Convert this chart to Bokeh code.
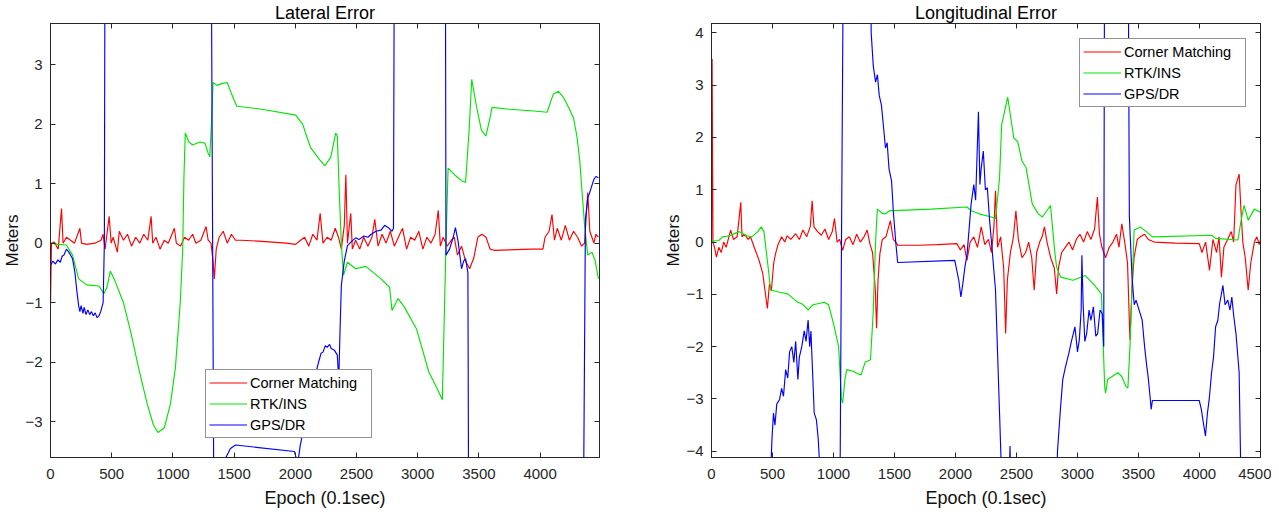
from bokeh.plotting import figure
from bokeh.models import LinearAxis
from bokeh.layouts import row
from bokeh.embed import file_html
from bokeh.resources import INLINE

# ---------------- data ----------------
series_names = ["Corner Matching", "RTK/INS", "GPS/DR"]
series_colors = ["#ff0000", "#00e600", "#0000ff"]

x_ticks_lat = [0, 500, 1000, 1500, 2000, 2500, 3000, 3500, 4000]
y_ticks_lat = [-3, -2, -1, 0, 1, 2, 3]
x_ticks_lon = [0, 500, 1000, 1500, 2000, 2500, 3000, 3500, 4000, 4500]
y_ticks_lon = [-4, -3, -2, -1, 0, 1, 2, 3, 4]

# Lateral error: Corner Matching
lat_cm_x = [0, 8, 30, 63, 90, 103, 130, 163, 196, 240, 253, 296, 363, 413, 429, 446, 479, 496, 512, 546, 562, 596, 629, 662, 696, 729, 762, 795, 822, 835, 862, 895, 929, 962, 1012, 1028, 1062, 1095, 1128, 1161, 1188, 1228, 1271, 1288, 1311, 1328, 1338, 1354, 1378, 1411, 1444, 1478, 1511, 1561, 1727, 1927, 2003, 2043, 2076, 2110, 2143, 2177, 2203, 2226, 2260, 2293, 2326, 2353, 2376, 2400, 2413, 2426, 2453, 2466, 2493, 2526, 2559, 2593, 2626, 2649, 2676, 2709, 2742, 2776, 2809, 2842, 2876, 2909, 2942, 2975, 3009, 3042, 3075, 3108, 3142, 3168, 3185, 3208, 3241, 3275, 3298, 3325, 3358, 3391, 3424, 3458, 3491, 3524, 3558, 3591, 3624, 3924, 4023, 4040, 4073, 4097, 4117, 4140, 4173, 4206, 4239, 4273, 4306, 4339, 4363, 4389, 4406, 4423, 4439, 4456, 4476]
lat_cm_y = [-1.05, 0.0, 0.02, -0.1, 0.58, 0.0, 0.1, 0.05, 0.0, 0.25, 0.0, -0.02, 0.0, 0.05, 0.15, -0.1, 0.45, 0.0, 0.1, -0.15, 0.2, 0.05, 0.15, -0.05, 0.1, 0.0, 0.15, 0.05, 0.45, 0.0, 0.1, -0.1, 0.05, 0.0, 0.25, 0.0, -0.05, 0.1, 0.05, 0.15, 0.0, 0.05, 0.28, 0.05, 0.0, -0.3, -0.6, -0.1, 0.1, 0.2, 0.0, 0.15, 0.05, 0.05, 0.03, 0.0, -0.02, 0.05, 0.1, -0.05, 0.15, 0.05, 0.5, 0.0, 0.1, 0.05, 0.25, 0.1, -0.1, 0.3, 1.15, 0.0, 0.5, -0.1, 0.05, -0.1, 0.1, -0.05, 0.1, 0.4, -0.05, 0.15, 0.0, 0.2, -0.05, 0.1, 0.25, -0.1, 0.1, 0.05, 0.2, -0.1, 0.1, 0.0, 0.15, 0.55, -0.05, 0.1, -0.05, 0.05, 0.1, -0.2, -0.05, -0.3, -0.43, -0.25, 0.1, 0.15, 0.1, -0.1, -0.12, -0.1, -0.1, 0.1, 0.2, 0.48, 0.05, 0.25, 0.05, 0.3, 0.05, 0.2, 0.1, -0.05, 0.0, 0.85, 0.2, 0.1, 0.0, 0.15, 0.1]

# Lateral error: RTK/INS
lat_rtk_x = [0, 60, 130, 180, 230, 296, 396, 436, 460, 489, 520, 596, 656, 720, 790, 840, 878, 930, 980, 1020, 1060, 1080, 1090, 1101, 1130, 1161, 1220, 1261, 1290, 1301, 1315, 1328, 1360, 1400, 1444, 1480, 1521, 1727, 2003, 2040, 2060, 2100, 2126, 2200, 2243, 2290, 2330, 2343, 2360, 2376, 2393, 2426, 2493, 2576, 2700, 2770, 2790, 2840, 2890, 2990, 3090, 3160, 3201, 3231, 3248, 3300, 3358, 3391, 3420, 3441, 3480, 3520, 3557, 3590, 3607, 3750, 3950, 4057, 4107, 4150, 4190, 4240, 4273, 4300, 4323, 4345, 4363, 4389, 4423, 4450, 4476]
lat_rtk_y = [0.0, -0.02, -0.03, -0.2, -0.6, -0.7, -0.72, -0.85, -0.75, -0.47, -0.6, -1.0, -1.5, -2.1, -2.7, -3.05, -3.18, -3.1, -2.7, -2.1, -1.0, -0.1, 1.1, 1.85, 1.7, 1.65, 1.7, 1.68, 1.5, 1.45, 2.0, 2.7, 2.65, 2.68, 2.7, 2.5, 2.3, 2.25, 2.15, 2.05, 2.0, 1.75, 1.6, 1.4, 1.3, 1.45, 1.85, 1.8, 0.8, 0.0, -0.54, -0.32, -0.43, -0.39, -0.6, -0.74, -1.13, -0.93, -1.07, -1.44, -2.16, -2.45, -2.63, 0.0, 1.26, 1.15, 1.05, 1.02, 1.9, 2.75, 2.3, 1.9, 1.8, 2.1, 2.28, 2.25, 2.22, 2.2, 2.5, 2.55, 2.45, 2.25, 2.1, 1.8, 1.4, 0.8, 0.3, -0.2, -0.15, -0.3, -0.6]

# Lateral error: GPS/DR
lat_gps_x = [0, 20, 40, 60, 80, 95, 110, 130, 150, 180, 200, 215, 230, 240, 250, 265, 275, 290, 305, 320, 335, 350, 365, 380, 396, 410, 430, 440, 446, 1311, 1338, 1380, 1421, 1470, 1511, 1993, 2020, 2040, 2080, 2140, 2190, 2210, 2226, 2245, 2260, 2280, 2293, 2320, 2343, 2355, 2365, 2376, 2400, 2426, 2460, 2493, 2520, 2560, 2593, 2620, 2659, 2700, 2730, 2760, 2790, 2802, 2810, 3225, 3231, 3260, 3290, 3308, 3330, 3358, 3375, 3391, 3410, 3418, 4349, 4370, 4389, 4405, 4420, 4439, 4455, 4476]
lat_gps_y = [-0.37, -0.3, -0.35, -0.28, -0.32, -0.22, -0.2, -0.1, -0.15, -0.26, -0.5, -0.8, -1.05, -1.15, -1.05, -1.18, -1.08, -1.2, -1.12, -1.2, -1.15, -1.22, -1.17, -1.25, -1.22, -1.15, -1.0, 0.0, 6.0, 6.0, -6.0, -5.0, -3.65, -3.45, -3.39, -3.5, -3.7, -3.4, -3.0, -2.4, -2.0, -1.85, -1.83, -1.72, -1.75, -1.7, -1.77, -1.8, -1.88, -2.3, -1.5, -0.71, -0.3, -0.04, 0.03, 0.09, 0.06, 0.12, 0.1, 0.15, 0.2, 0.22, 0.3, 0.26, 0.2, 0.25, 6.0, 6.0, -0.2, -0.1, 0.1, 0.26, 0.03, -0.43, -0.3, -0.26, -0.5, -6.0, -6.0, 0.4, 0.76, 0.85, 0.95, 1.07, 1.12, 1.1]

# Longitudinal error: Corner Matching
lon_cm_x = [0, 5, 12, 25, 40, 60, 80, 100, 120, 157, 180, 210, 240, 250, 270, 300, 320, 350, 390, 420, 458, 475, 491, 510, 524, 545, 575, 600, 620, 650, 690, 720, 750, 780, 810, 825, 840, 870, 900, 930, 960, 990, 1008, 1030, 1050, 1075, 1100, 1130, 1160, 1190, 1220, 1250, 1276, 1300, 1320, 1343, 1353, 1365, 1380, 1400, 1430, 1466, 1490, 1520, 1526, 1700, 1850, 2011, 2040, 2070, 2094, 2120, 2150, 2180, 2211, 2240, 2270, 2295, 2315, 2328, 2345, 2370, 2395, 2411, 2425, 2450, 2475, 2495, 2515, 2545, 2575, 2600, 2625, 2645, 2665, 2690, 2710, 2729, 2750, 2780, 2810, 2829, 2845, 2870, 2900, 2930, 2960, 2990, 3020, 3050, 3080, 3110, 3140, 3163, 3180, 3200, 3230, 3260, 3290, 3320, 3340, 3363, 3390, 3410, 3430, 3447, 3464, 3490, 3514, 3550, 3580, 3610, 3631, 3800, 3998, 4020, 4050, 4082, 4110, 4140, 4160, 4180, 4200, 4230, 4260, 4280, 4299, 4325, 4340, 4355, 4375, 4399, 4420, 4450, 4470, 4490, 4500]
lon_cm_y = [0.0, 3.5, 0.0, -0.1, -0.29, -0.1, -0.2, 0.0, -0.1, 0.23, 0.05, 0.1, 0.76, 0.1, 0.15, 0.05, 0.1, -0.1, -0.35, -0.6, -1.27, -0.8, -0.92, -0.4, -0.23, -0.05, 0.1, 0.0, 0.12, 0.05, 0.16, 0.05, 0.23, 0.1, 0.3, 0.79, 0.29, 0.2, 0.13, 0.25, 0.05, 0.2, 0.45, 0.0, 0.05, -0.16, 0.05, 0.1, -0.05, 0.15, 0.0, 0.1, 0.23, -0.05, -0.2, -0.92, -1.65, -0.73, -0.23, 0.05, 0.1, 0.41, 0.05, -0.03, -0.06, -0.06, -0.05, -0.03, -0.15, -0.05, -0.35, 0.0, 0.1, -0.1, 0.29, -0.05, 0.05, -0.2, 0.3, 0.98, -0.1, 0.1, -0.5, -1.75, -0.73, -0.2, 0.1, 0.6, 0.05, -0.3, -0.2, 0.0, -0.3, -0.92, -0.2, 0.0, 0.1, 0.29, 0.0, -0.3, -0.5, -0.99, -0.48, -0.2, -0.1, 0.0, -0.15, 0.05, 0.15, 0.0, 0.2, 0.05, 0.25, 0.86, 0.15, -0.1, -0.3, -0.1, 0.0, 0.15, -0.1, 0.35, -0.05, -0.4, -1.87, -0.86, -0.29, 0.05, 0.1, 0.15, 0.05, 0.02, 0.0, -0.02, -0.03, -0.2, 0.0, -0.54, 0.05, -0.2, 0.1, -0.67, -0.1, 0.05, 0.2, 0.0, 1.1, 1.3, 0.6, 0.0, -0.3, -0.92, -0.4, 0.0, 0.1, -0.05, 0.05]

# Longitudinal error: RTK/INS
lon_rtk_x = [0, 20, 60, 90, 150, 224, 290, 330, 380, 407, 430, 450, 470, 484, 508, 560, 625, 680, 708, 740, 770, 792, 810, 830, 870, 925, 960, 1000, 1042, 1065, 1075, 1095, 1109, 1160, 1200, 1226, 1259, 1303, 1325, 1343, 1359, 1400, 1426, 1460, 1493, 1800, 2094, 2128, 2194, 2295, 2328, 2361, 2378, 2428, 2478, 2510, 2545, 2579, 2629, 2679, 2712, 2779, 2812, 2829, 2862, 2963, 3063, 3130, 3196, 3223, 3230, 3247, 3330, 3363, 3397, 3413, 3430, 3447, 3464, 3514, 3564, 3614, 4099, 4132, 4315, 4340, 4365, 4399, 4449, 4500]
lon_rtk_y = [0.0, 0.02, 0.03, 0.1, 0.12, 0.2, 0.12, 0.1, 0.2, 0.29, 0.2, -0.2, -0.6, -0.92, -0.93, -0.96, -0.99, -1.1, -1.15, -1.18, -1.24, -1.3, -1.25, -1.2, -1.18, -1.15, -1.2, -1.56, -2.0, -3.0, -3.08, -2.6, -2.44, -2.47, -2.52, -2.54, -2.3, -2.25, -1.37, -0.1, 0.63, 0.55, 0.54, 0.6, 0.6, 0.63, 0.67, 0.6, 0.54, 0.48, 0.45, 1.23, 2.24, 2.77, 1.99, 1.92, 1.55, 1.42, 0.73, 0.54, 0.48, 0.7, -0.15, -0.48, -0.67, -0.73, -0.64, -0.8, -0.99, -2.76, -2.89, -2.63, -2.5, -2.57, -2.76, -2.79, -2.0, -0.86, 0.23, 0.29, 0.2, 0.1, 0.13, 0.07, 0.04, 0.4, 0.7, 0.42, 0.63, 0.57]

# Longitudinal error: GPS/DR
lon_gps_x = [484, 495, 508, 520, 535, 558, 575, 590, 608, 625, 640, 658, 675, 690, 708, 720, 740, 760, 775, 792, 805, 815, 842, 860, 875, 892, 1040, 1055, 1065, 1082, 1300, 1309, 1326, 1345, 1360, 1375, 1393, 1410, 1426, 1440, 1455, 1476, 1490, 1510, 1526, 1994, 2027, 2044, 2060, 2077, 2095, 2128, 2150, 2165, 2188, 2200, 2210, 2228, 2245, 2261, 2280, 2295, 2328, 2361, 2378, 2440, 2447, 2452, 2830, 2836, 2860, 2879, 2900, 2929, 2950, 2979, 3000, 3015, 3030, 3036, 3046, 3060, 3075, 3095, 3110, 3130, 3150, 3165, 3185, 3203, 3215, 3222, 3415, 3425, 3447, 3465, 3480, 3505, 3530, 3550, 3564, 3580, 3597, 3604, 3614, 3998, 4015, 4032, 4049, 4065, 4080, 4099, 4115, 4132, 4150, 4165, 4192, 4210, 4232, 4250, 4265, 4280, 4299, 4325, 4339]
lon_gps_y = [-4.5, -3.8, -3.27, -3.5, -3.1, -3.01, -2.8, -2.95, -2.44, -2.6, -2.1, -2.0, -2.3, -1.9, -2.63, -2.2, -2.0, -1.7, -1.9, -1.49, -2.0, -1.7, -3.27, -3.4, -3.77, -4.5, -4.5, -4.1, -0.16, 6.0, 6.0, 4.0, 3.37, 3.06, 3.2, 2.8, 2.62, 2.2, 1.8, 1.9, 1.4, 1.17, 0.6, 0.0, -0.39, -0.35, -0.73, -1.05, -0.8, -0.48, -0.23, 0.73, 1.1, 0.8, 2.49, 1.1, 1.4, 1.74, 1.0, 1.04, 0.4, 0.0, -0.92, -3.27, -4.5, -4.5, -3.9, -4.5, -4.5, -4.0, -3.2, -2.63, -2.4, -2.13, -1.9, -1.62, -2.1, -1.87, -1.3, -0.25, -1.18, -1.9, -1.75, -1.3, -1.5, -1.24, -1.8, -1.75, -1.3, -1.37, -2.0, 6.0, 6.0, 0.5, -0.67, -1.2, -1.11, -1.3, -1.49, -2.0, -2.3, -2.6, -3.01, -3.2, -3.03, -3.03, -3.2, -3.46, -3.71, -3.27, -3.0, -2.5, -2.2, -1.62, -1.5, -1.18, -0.83, -1.2, -1.11, -1.3, -1.05, -1.4, -1.75, -2.5, -4.5]

FONT = "Liberation Sans"
AX = "#262626"


def style_axis(ax, ticks, labels=True):
    ax.ticker = ticks
    ax.axis_line_color = AX
    ax.major_tick_line_color = AX
    ax.major_tick_in = 5
    ax.major_tick_out = 0
    ax.minor_tick_line_color = None
    if labels:
        ax.major_label_text_font = FONT
        ax.major_label_text_font_size = "15px"
        ax.major_label_text_color = AX
        ax.major_label_standoff = 8
        ax.axis_label_text_font = FONT
        ax.axis_label_text_font_style = "normal"
        ax.axis_label_text_color = "#111111"
    else:
        ax.major_label_text_font_size = "0px"
        ax.major_label_text_color = None
        ax.major_label_standoff = 0
        ax.axis_label = None


def make_plot(title, xr, yr, xt, yt, data, border_left, border_right, legend_loc):
    p = figure(frame_width=549, frame_height=434, x_range=xr, y_range=yr,
               output_backend="svg", toolbar_location=None,
               min_border_left=border_left, min_border_right=border_right,
               min_border_top=0, min_border_bottom=0)
    p.title.text = title
    p.title.align = "center"
    p.title.text_font = FONT
    p.title.text_font_size = "18px"
    p.title.text_font_style = "normal"
    p.title.text_color = "#000000"
    p.title.standoff = 1
    p.xgrid.visible = False
    p.ygrid.visible = False
    p.outline_line_color = AX
    p.outline_line_alpha = 1
    p.xaxis.axis_label = "Epoch (0.1sec)"
    p.yaxis.axis_label = "Meters"
    style_axis(p.xaxis[0], xt)
    style_axis(p.yaxis[0], yt)
    p.xaxis.axis_label_text_font_size = "18px"
    p.xaxis.axis_label_standoff = 6
    p.xaxis.major_label_standoff = 11
    p.yaxis.axis_label_text_font_size = "17px"
    p.yaxis.axis_label_standoff = 0
    top = LinearAxis()
    right = LinearAxis()
    p.add_layout(top, "above")
    p.add_layout(right, "right")
    style_axis(top, xt, labels=False)
    style_axis(right, yt, labels=False)

    for (xs, ys), color, name in zip(data, series_colors, series_names):
        p.line(x=xs, y=ys, line_color=color, line_width=1.15, legend_label=name)

    legend = p.legend[0]
    legend.location = legend_loc
    legend.border_line_color = AX
    legend.border_line_width = 1
    legend.background_fill_color = "white"
    legend.background_fill_alpha = 1
    legend.label_text_font = FONT
    legend.label_text_font_size = "14.5px"
    legend.label_text_color = "#000000"
    legend.glyph_width = 38
    legend.glyph_height = 19
    legend.label_height = 19
    legend.label_width = 118
    legend.label_standoff = 3
    legend.padding = 3
    legend.spacing = 2
    legend.margin = 0
    return p


p1 = make_plot("Lateral Error", (0, 4485), (-3.60, 3.69), x_ticks_lat, y_ticks_lat,
               [(lat_cm_x, lat_cm_y), (lat_rtk_x, lat_rtk_y), (lat_gps_x, lat_gps_y)],
               42, 41, (155, 19))
p2 = make_plot("Longitudinal Error", (0, 4500), (-4.12, 4.18), x_ticks_lon, y_ticks_lon,
               [(lon_cm_x, lon_cm_y), (lon_rtk_x, lon_rtk_y), (lon_gps_x, lon_gps_y)],
               71, 11, (368, 350))

layout = row(p1, p2)
open("out.html", "w").write(file_html(layout, INLINE))
